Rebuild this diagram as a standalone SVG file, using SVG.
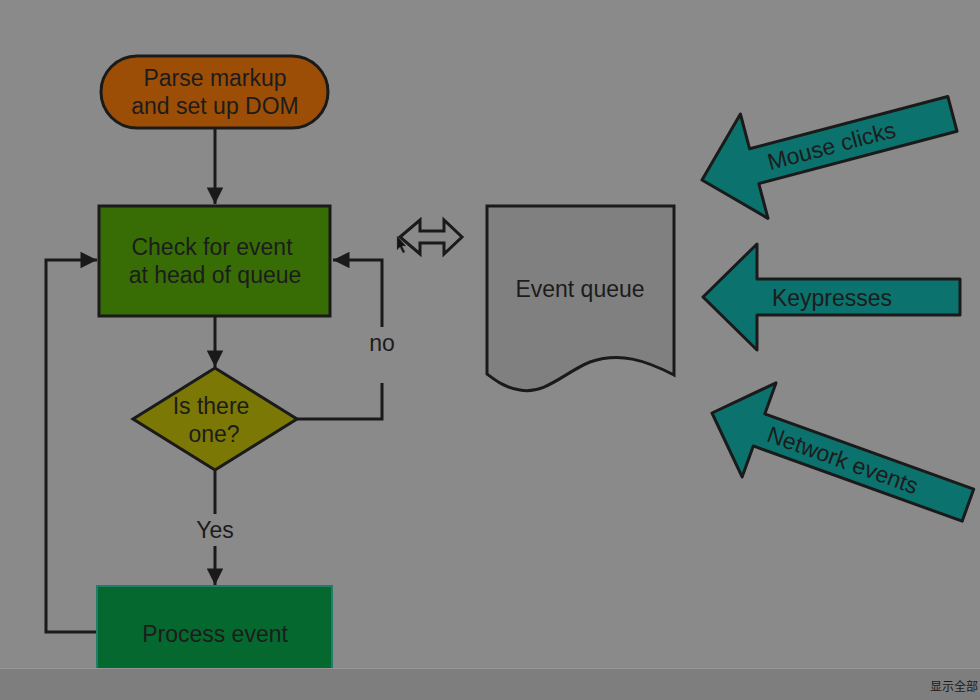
<svg xmlns="http://www.w3.org/2000/svg" width="980" height="700" viewBox="0 0 980 700">
  <defs>
    <marker id="ah" viewBox="0 0 10 10" refX="10" refY="5" markerWidth="6" markerHeight="5.5" orient="auto" markerUnits="strokeWidth">
      <path d="M0,0 L10,5 L0,10 Z" fill="#1a1a1a"/>
    </marker>
    <style>
      .t { font-family: "Liberation Sans", Arial, sans-serif; font-size: 23px; fill: #1c1c1c; text-anchor: middle; }
      .ln { fill: none; stroke: #1a1a1a; stroke-width: 3; }
      .box { stroke: #1a1a1a; stroke-width: 3; }
      .big { fill: #0b726e; stroke: #1a1a1a; stroke-width: 3; stroke-linejoin: round; }
    </style>
  </defs>
  <rect x="0" y="0" width="980" height="700" fill="#8a8a8a"/>

  <g id="connectors">
    <line class="ln" x1="215" y1="129" x2="215" y2="204" marker-end="url(#ah)"/>
    <line class="ln" x1="215" y1="317" x2="215" y2="367" marker-end="url(#ah)"/>
    <line class="ln" x1="215" y1="471" x2="215" y2="514"/>
    <line class="ln" x1="215" y1="546" x2="215" y2="585" marker-end="url(#ah)"/>
    <polyline class="ln" points="97,632 46,632 46,260 97,260" marker-end="url(#ah)"/>
    <polyline class="ln" points="382,383 382,419 297,419"/>
    <polyline class="ln" points="382,327 382,260 333,260" marker-end="url(#ah)"/>
    <text class="t" x="382" y="351">no</text>
    <text class="t" x="215" y="538">Yes</text>
    <path d="M400,237 L420,220 L420,231 L444,231 L444,220 L462,237 L444,254 L444,243 L420,243 L420,254 Z" fill="none" stroke="#1a1a1a" stroke-width="3" stroke-linejoin="miter"/>
  </g>

  <g id="parse">
    <rect class="box" x="101" y="56" width="227" height="72" rx="36" ry="36" fill="#9c4e07"/>
    <text class="t" x="215" y="86">Parse markup</text>
    <text class="t" x="215" y="114">and set up DOM</text>
  </g>

  <g id="check">
    <rect class="box" x="99" y="206" width="231" height="110" fill="#386d06"/>
    <text class="t" x="212" y="255">Check for event</text>
    <text class="t" x="215" y="283">at head of queue</text>
  </g>

  <g id="decision">
    <polygon class="box" points="215,368 297,419 215,470 133,419" fill="#7b7806"/>
    <text class="t" x="211" y="414">Is there</text>
    <text class="t" x="214" y="442">one?</text>
  </g>

  <g id="process">
    <rect x="97" y="586" width="235" height="90" fill="#05692f" stroke="#1f7d6a" stroke-width="2"/>
    <text class="t" x="215" y="642">Process event</text>
  </g>

  <g id="queue">
    <path class="box" d="M487,206 L674,206 L674,375 C645,360 620,352 590,362 C565,372 545,395 520,390 C505,388 495,380 487,374 Z" fill="#808080"/>
    <text class="t" x="580" y="297">Event queue</text>
  </g>

  <g id="mouse" transform="translate(702,180) rotate(-14.8)">
    <polygon class="big" points="0,0 54,-54 54,-18 259,-18 259,18 54,18 54,54"/>
    <text class="t" x="134" y="8">Mouse clicks</text>
  </g>

  <g id="keys" transform="translate(703,297)">
    <polygon class="big" points="0,0 54,-53 54,-18 257,-18 257,18 54,18 54,53"/>
    <text class="t" x="129" y="9">Keypresses</text>
  </g>

  <g id="network" transform="translate(712,413) rotate(19.8)">
    <polygon class="big" points="0,0 50,-50 50,-17 272,-17 272,17 50,17 50,50"/>
    <text class="t" x="139" y="8">Network events</text>
  </g>

  <polygon points="397,236 397,250 400,247 403,253 405,252 402,246 406,246 Z" fill="#111" stroke="#555" stroke-width="0.5"/>

  <g id="bar">
    <rect x="0" y="668" width="980" height="32" fill="#7e7e7e"/>
    <line x1="0" y1="668.5" x2="980" y2="668.5" stroke="#969696" stroke-width="1"/>
    <text x="930" y="691" font-family="'Noto Sans CJK SC', sans-serif" font-size="12" fill="#1a1a1a">显示全部</text>
  </g>
</svg>
